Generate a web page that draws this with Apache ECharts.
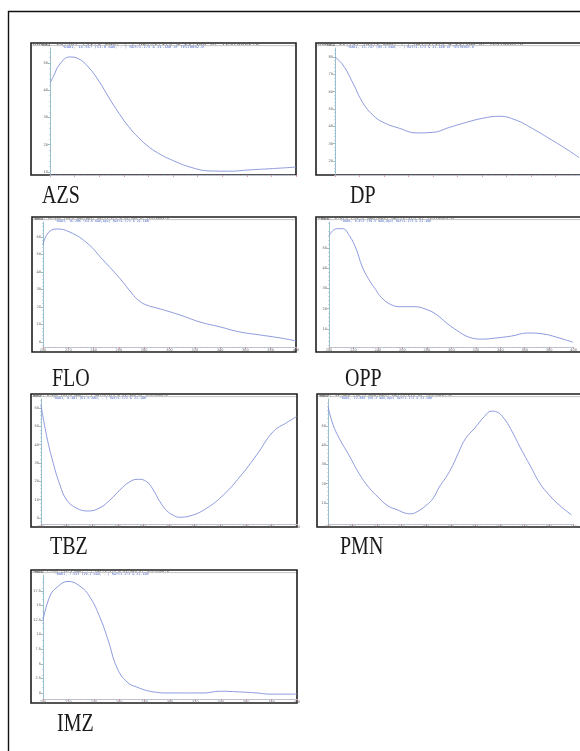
<!DOCTYPE html>
<html><head><meta charset="utf-8">
<script src="https://cdn.jsdelivr.net/npm/echarts@6/dist/echarts.min.js"></script>
<style>html,body{margin:0;padding:0;background:#fff}#c{width:580px;height:751px}</style>
</head><body><div id="c"></div>
<script>
// ---- data ----
const sampleNames = ['AZS', 'DP', 'FLO', 'OPP', 'TBZ', 'PMN', 'IMZ'];
// [wavelength nm, absorbance mAU]
const azsSpectrum = [[200,42.6],[202.7,45],[208,49.6],[216,52.2],[223,51.6],[231,48.6],[240,43.2],[248,37.2],[256,31.6],[264,26.6],[272,22.6],[281,19],[290,16.4],[298,14.6],[314,11.8],[330,10.4],[346,10.3],[363,10.8],[379,11.2],[400,11.8]];
const dpSpectrum = [[200,80],[206.5,75.4],[214.6,65],[222.8,53.5],[230.9,46.5],[239,42.4],[252.8,38.8],[266.7,36.2],[279.7,36.5],[293.5,39.4],[307.3,42.3],[320.3,44.6],[334.1,45.8],[348,43.5],[361,38.8],[374.8,33],[388.6,27],[399.2,22]];
const floSpectrum = [[200,55.4],[204,62.3],[211,64.6],[221.3,62.8],[234.8,56.6],[247.4,46.9],[260.9,36.2],[270,28],[276,23.5],[282.2,21],[292.5,18.9],[308.3,15.4],[324.1,11.4],[339.9,8.6],[355.7,5.7],[371.5,4],[387.4,2.3],[400,0.6]];
const oppSpectrum = [[200,56],[206.3,59.5],[211.1,59.5],[216.7,56],[222.2,49.5],[227,41],[232.5,34.5],[238.1,29.5],[242.9,25.5],[250.8,22],[258.7,21],[269.8,21],[280.2,19.5],[288.1,17],[296,13],[304,9.5],[314.3,6],[325.4,5],[335.7,5.5],[349.2,6.5],[362,8],[375.5,7.5],[385.7,6],[399.2,3.5]];
const tbzSpectrum = [[200,61.6],[204.5,44.4],[209.6,29.8],[214.8,18],[220.1,9.8],[227.9,5.3],[236.9,3.8],[246.1,5.6],[253.9,9.8],[261.7,15.3],[269.5,19.8],[276,21.1],[282.5,19.8],[287.7,15.3],[292.9,8.9],[298.2,4],[303.3,1.5],[308,0.4],[316.4,1.1],[329.4,5.3],[342.4,12.5],[355.4,22.5],[368.5,34.4],[381.4,47.1],[391.9,52],[399.7,55.3]];
const pmnSpectrum = [[200,60.3],[203.9,51],[209.4,43.3],[217.3,34.6],[225.2,25.4],[233.1,18.2],[240.9,13],[248.8,8.5],[256.7,6.4],[262.2,4.9],[266.9,4.4],[272.4,5.4],[280.3,9],[285.8,12.6],[290.5,18.2],[296,23.3],[301.5,29.5],[306.3,36.2],[311.8,43.3],[319.6,49],[327.5,55],[333,57.7],[337.7,57.2],[343.2,54],[348.7,48.5],[356.6,38.7],[364.5,29.5],[372.4,20.3],[380.2,14.1],[388.1,9],[398.3,3.8]];
const imzSpectrum = [[200,12.5],[205.5,16.6],[211,18.1],[219.7,19.1],[229.1,18.3],[237,16.4],[244.9,12.9],[251.2,9.1],[258.3,4.3],[266.1,1.9],[274,1],[286.6,0.2],[300,0],[326,0],[340,0.3],[352.8,0.2],[368.5,0],[378.7,-0.2],[400,-0.2]];

// y tick labels per panel
const azsTicks = [10,20,30,40,50];
const dpTicks = [20,30,40,50,60,70,80];
const floTicks = [0,10,20,30,40,50,60];
const oppTicks = [10,20,30,40,50];
const tbzTicks = [0,10,20,30,40,50,60];
const pmnTicks = [10,20,30,40,50];
const imzTicks = [0,2.5,5,7.5,10,12.5,15,17.5];
const wavelengthRange = [200, 400];
const wavelengthStep = 20;

// header texts of each instrument screenshot
const headerLine1 = [
  'DAD1, 14.567 (51.9 mAU, - ) Ref=1.173 & 21.180 of TEST0002.D',
  'DAD1, 11.747 (85.2 mAU, - ) Ref=1.173 & 21.180 of TEST0003.D',
  'DAD1, 16.206 (64.6 mAU,Apx) Ref=1.173 & 21.180 of TEST0004.D',
  'DAD1, 9.873 (59.5 mAU,Apx) Ref=1.173 of TEST0005.D',
  'DAD1, 8.481 (61.6 mAU, - ) Ref=1.173 & 21.180 of TEST0006.D',
  'DAD1, 12.886 (60.3 mAU,Apx) Ref=1.173 of TEST0007.D',
  'DAD1, 7.553 (19.1 mAU, - ) Ref=1.173 & 21.180 of TEST0008.D'
];
const headerLine2 = [
  '*DAD1, 14.567 (51.9 mAU, - ) Ref=1.173 & 21.180 of TEST0002.D',
  '*DAD1, 11.747 (85.2 mAU, - ) Ref=1.173 & 21.180 of TEST0003.D',
  '*DAD1, 16.206 (64.6 mAU,Apx) Ref=1.173 & 21.180',
  '*DAD1, 9.873 (59.5 mAU,Apx) Ref=1.173 & 21.180',
  '*DAD1, 8.481 (61.6 mAU, - ) Ref=1.173 & 21.180',
  '*DAD1, 12.886 (60.3 mAU,Apx) Ref=1.173 & 21.180',
  '*DAD1, 7.553 (19.1 mAU, - ) Ref=1.173 & 21.180'
];

const spectra = [azsSpectrum, dpSpectrum, floSpectrum, oppSpectrum, tbzSpectrum, pmnSpectrum, imzSpectrum];
const ticks = [azsTicks, dpTicks, floTicks, oppTicks, tbzTicks, pmnTicks, imzTicks];

// ---- layout (pixels) ----
const layout = [
  {box:[31,43,296,175],  plot:[50,48,296,175],  y:[8.9,55.5],   label:[42,196.5], showX:false, h1:[227,142]},
  {box:[316,43,581,175], plot:[335,48,581,175], y:[11.9,85.2],  label:[350,196.5], showX:false, h1:[206,127]},
  {box:[32,217,296,352], plot:[43,222,296,347], y:[-2.9,68.6],  label:[52,379], showX:true, h1:[135,94]},
  {box:[316,217,581,352],plot:[329,222,581,347],y:[1.1,62.8],   label:[345,379], showX:true, h1:[136,90]},
  {box:[31,394,297,527], plot:[41,399,297,524], y:[-3.3,64.9],  label:[50,547], showX:true, h1:[135,93]},
  {box:[317,394,582,527],plot:[328,399,582,524],y:[-0.9,64],    label:[340,547], showX:true, h1:[133,92]},
  {box:[31,570,297,703], plot:[43,575,297,699], y:[-1.03,20.2], label:[57,724], showX:true, h1:[136,94]}
];

const grid = [], xAxis = [], yAxis = [], series = [], graphic = [];
const MONO = 0.602;
graphic.push({type:'rect', silent:true, shape:{x:8.5,y:11.5,width:620,height:780},
  style:{fill:'none', stroke:'#111', lineWidth:1.4}});

layout.forEach((L, i) => {
  const [pl, pt, pr, pb] = L.plot;
  grid.push({left:pl, top:pt, width:pr-pl, height:pb-pt, containLabel:false});
  xAxis.push({
    type:'value', gridIndex:i, min:wavelengthRange[0], max:wavelengthRange[1], interval:wavelengthStep,
    axisLine:{show:true, onZero:false, lineStyle:{color:'#bcc3d4', width:1}},
    axisTick:{show:true, length:2, lineStyle:{color:'#d48e8e', width:0.8}},
    minorTick:{show:true, splitNumber:4, length:1, lineStyle:{color:'#d8a0a0', width:0.6}},
    axisLabel:{show:L.showX, fontSize:3.5, color:'#666', margin:1, fontFamily:'DejaVu Sans'},
    splitLine:{show:false}
  });
  yAxis.push({
    type:'value', gridIndex:i, min:L.y[0], max:L.y[1],
    name:'mAU', nameGap:1, nameTextStyle:{fontSize:3.5, color:'#555', align:'right', fontFamily:'DejaVu Sans'},
    axisLine:{show:true, onZero:false, lineStyle:{color:'#8fb9c8', width:0.9}},
    axisTick:{show:true, length:2, customValues:ticks[i], lineStyle:{color:'#7fabbc', width:0.8}},
    minorTick:{show:true, splitNumber:5, length:1, lineStyle:{color:'#9cc2d0', width:0.6}},
    axisLabel:{show:true, customValues:ticks[i], fontSize:3.5, color:'#555', margin:2, fontFamily:'DejaVu Sans'},
    splitLine:{show:false}
  });
  series.push({
    type:'line', name:sampleNames[i], xAxisIndex:i, yAxisIndex:i, data:spectra[i],
    showSymbol:false, smooth:0.45, lineStyle:{color:'#8190da', width:0.9}, silent:true
  });
  const [bl, bt, br, bb] = L.box;
  graphic.push({type:'rect', silent:true, shape:{x:bl, y:bt, width:br-bl, height:bb-bt},
    style:{fill:'none', stroke:'#1e1e1e', lineWidth:1.6}});
  graphic.push({type:'line', silent:true, shape:{x1:bl+1, y1:bt+2.6, x2:br-1, y2:bt+2.6},
    style:{stroke:'#9a9a9a', lineWidth:0.6}});
  const fs1 = L.h1[0] / (headerLine1[i].length * MONO);
  const fs2 = L.h1[1] / (headerLine2[i].length * MONO);
  graphic.push({type:'text', silent:true, x:bl+2, y:bt+1.6, scaleY:3.2/fs1,
    style:{text:headerLine1[i], x:0, y:0, font:fs1.toFixed(2)+'px "DejaVu Sans Mono"', fill:'#5a5a5a',
      verticalAlign:'middle', textVerticalAlign:'middle'}});
  graphic.push({type:'text', silent:true, x:pl+12, y:bt+4.6, scaleY:3.2/fs2,
    style:{text:headerLine2[i], x:0, y:0, font:fs2.toFixed(2)+'px "DejaVu Sans Mono"', fill:'#4a68d0',
      verticalAlign:'middle', textVerticalAlign:'middle'}});
  graphic.push({type:'text', silent:true, x:L.label[0], y:L.label[1], scaleX:0.8,
    style:{text:sampleNames[i], x:0, y:0, font:'25px "Liberation Serif"', fill:'#1a1a1a',
      verticalAlign:'middle', textVerticalAlign:'middle'}});
});

const chart = echarts.init(document.getElementById('c'), null, {renderer:'canvas'});
chart.setOption({animation:false, backgroundColor:'#fff', grid, xAxis, yAxis, series, graphic});
</script>
</body></html>
